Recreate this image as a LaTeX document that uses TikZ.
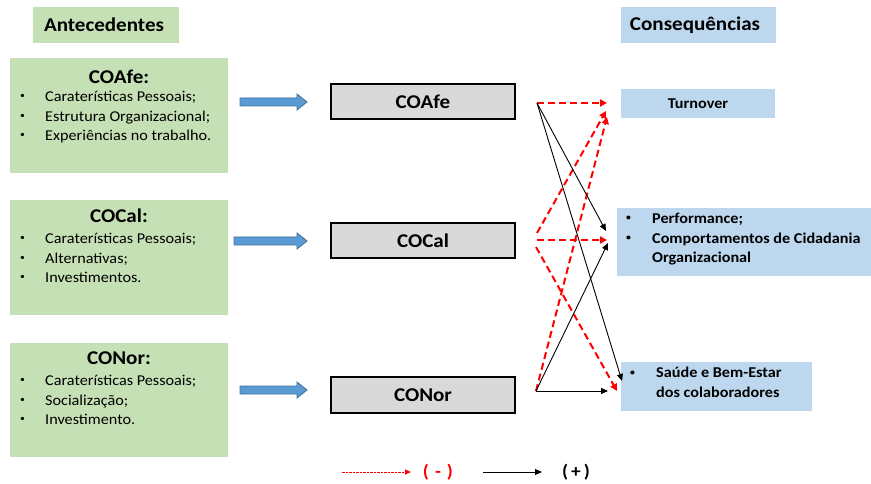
\documentclass[tikz,border=0pt]{standalone}
\usepackage{fontspec}
\usepackage{graphicx}
\setmainfont{Carlito}[FakeStretch=1.08]
\usetikzlibrary{arrows.meta}
\definecolor{grn}{HTML}{C5E0B4}
\definecolor{blu}{HTML}{BDD7EE}
\definecolor{gry}{HTML}{D9D9D9}
\definecolor{arrfill}{HTML}{5B9BD5}
\definecolor{arrline}{HTML}{41719C}
\definecolor{redd}{HTML}{FF0000}
\tikzset{
  greenbox/.style={fill=grn, draw=none, inner sep=0pt},
  bluebox/.style={fill=blu, draw=none, inner sep=0pt},
  graybox/.style={fill=gry, draw=black, line width=1.1pt, inner sep=0pt, font=\fontsize{19.5}{22}\selectfont\bfseries},
  headtxt/.style={font=\fontsize{19.5}{22}\selectfont\bfseries, inner sep=0pt},
  listtxt/.style={font=\fontsize{15}{19.5}\selectfont, inner sep=0pt, align=left, anchor=north west},
  rlisttxt/.style={font=\fontsize{15}{19.5}\selectfont\bfseries, inner sep=0pt, align=left, anchor=north west},
  negline/.style={draw=redd, line width=2pt, dash pattern=on 7pt off 4pt, -{Triangle[length=7pt,width=7pt]}},
  posline/.style={draw=black, line width=0.9pt, -{Triangle[length=7pt,width=6pt]}},
  blockarrow/.style={fill=arrfill, draw=arrline, line width=0.8pt},
  legtxt/.style={font=\fontsize{18}{20}\selectfont\bfseries, inner sep=0pt},
}
\newcommand{\bltmark}{\raisebox{0.18em}{\scalebox{0.6}{\textbullet}}}
\newcommand{\blt}[2][25pt]{\makebox[#1][l]{\bltmark}#2}
\begin{document}
\begin{tikzpicture}[x=1pt,y=-1pt]
\useasboundingbox (0,0) rectangle (871,484);
\fill[white] (0,0) rectangle (871,484);

% headers
\node[greenbox, minimum width=146pt, minimum height=36pt] (ant) at (106,25) {};
\node[headtxt] (antt) at (104,25) {Antecedentes};
\node[bluebox, minimum width=155pt, minimum height=36pt] (con) at (698.5,25) {};
\node[headtxt] (cont) at (695,25) {Consequências};

% green boxes
\node[greenbox, minimum width=218pt, minimum height=115pt] (g1) at (119,115.5) {};
\node[headtxt] (g1t) at (119,77) {COAfe:};
\node[listtxt] (g1l) at (20,91) {\blt{Caraterísticas Pessoais;}\\\blt{Estrutura Organizacional;}\\\blt{Experiências no trabalho.}};

\node[greenbox, minimum width=218pt, minimum height=115pt] (g2) at (119,257.5) {};
\node[headtxt] (g2t) at (119,216) {COCal:};
\node[listtxt] (g2l) at (20,233) {\blt{Caraterísticas Pessoais;}\\\blt{Alternativas;}\\\blt{Investimentos.}};

\node[greenbox, minimum width=218pt, minimum height=114pt] (g3) at (119,400) {};
\node[headtxt] (g3t) at (119,358) {CONor:};
\node[listtxt] (g3l) at (20,375) {\blt{Caraterísticas Pessoais;}\\\blt{Socialização;}\\\blt{Investimento.}};

% block arrows
\draw[blockarrow] (240,98) -- (297,98) -- (297,94) -- (307,102) -- (297,110) -- (297,106) -- (240,106) -- cycle;
\draw[blockarrow] (234,237) -- (297,237) -- (297,233) -- (307,241) -- (297,249) -- (297,245) -- (234,245) -- cycle;
\draw[blockarrow] (240,386) -- (297,386) -- (297,382) -- (307,390) -- (297,398) -- (297,394) -- (240,394) -- cycle;

% gray boxes
\node[graybox, minimum width=184pt, minimum height=35pt] (cafe) at (423,101.5) {COAfe};
\node[graybox, minimum width=184pt, minimum height=35pt] (ccal) at (423,240.5) {COCal};
\node[graybox, minimum width=184pt, minimum height=36pt] (cnor) at (423,395) {CONor};

% right boxes
\node[bluebox, minimum width=154pt, minimum height=29pt, font=\fontsize{15}{18}\selectfont\bfseries] (turn) at (698,103.5) {Turnover};
\node[bluebox, minimum width=254pt, minimum height=68pt] (perf) at (744,242) {};
\node[rlisttxt] (perfl) at (626,213) {\blt[26pt]{Performance;}\\\blt[26pt]{Comportamentos de Cidadania}\\\makebox[26pt]{}Organizacional};
\node[bluebox, minimum width=191pt, minimum height=49pt] (saude) at (716.5,386.5) {};
\node[rlisttxt] (saudel) at (630,367) {\blt[26pt]{Saúde e Bem-Estar}\\\makebox[26pt]{}dos colaboradores};

% connector coordinates
\coordinate (sA) at (537,103);
\coordinate (sC) at (537,240);
\coordinate (sCu) at (537,233);
\coordinate (sCd) at (536,247);
\coordinate (sN) at (536,391);
\coordinate (eT1) at (607,103);
\coordinate (eT2) at (606,111);
\coordinate (eT3) at (607,117);
\coordinate (eP1) at (606,231);
\coordinate (eP2) at (607,240);
\coordinate (eP3) at (608,243);
\coordinate (eS1) at (622,381);
\coordinate (eS2) at (617,391);
\coordinate (eS3) at (608,391);

% negative
\draw[negline] (sA) -- (eT1);
\draw[negline] (sCu) -- (eT2);
\draw[negline] (sN) -- (eT3);
\draw[negline] (sC) -- (eP2);
\draw[negline] (sCd) -- (eS2);
% positive
\draw[posline] (sA) -- (eP1);
\draw[posline] (sA) -- (eS1);
\draw[posline] (sN) -- (eP3);
\draw[posline] (sN) -- (eS3);

% legend
\coordinate (l1a) at (342,472);
\coordinate (l1b) at (411,472);
\coordinate (l2a) at (483,472);
\coordinate (l2b) at (542,472);
\draw[draw=redd, line width=0.8pt, dash pattern=on 2.5pt off 1pt, -{Triangle[length=6pt,width=5pt]}] (l1a) -- (l1b);
\node[legtxt, text=redd] (lneg) at (438,472) {(\,\,-\,\,)};
\draw[posline] (l2a) -- (l2b);
\node[legtxt] (lpos) at (576,472) {(\,+\,)};
\end{tikzpicture}
\end{document}
